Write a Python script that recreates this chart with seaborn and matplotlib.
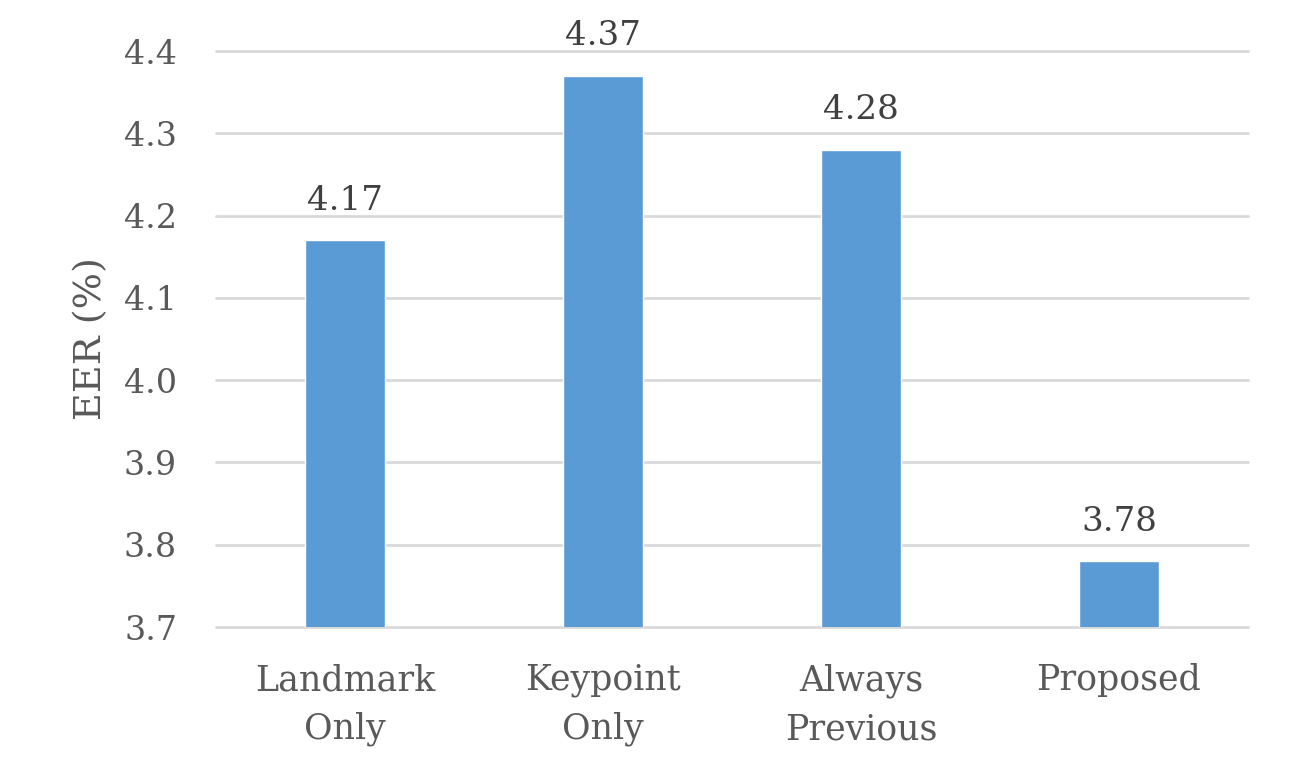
import matplotlib
matplotlib.use("Agg")
import matplotlib.pyplot as plt
import seaborn as sns
import pandas as pd

categories = ["Landmark\nOnly", "Keypoint\nOnly", "Always\nPrevious", "Proposed"]
eer_values = [4.17, 4.37, 4.28, 3.78]
y_ticks = [3.7, 3.8, 3.9, 4.0, 4.1, 4.2, 4.3, 4.4]

sns.set_theme(style="white")
plt.rcParams['font.family'] = ['DejaVu Serif']

df = pd.DataFrame({"cat": categories, "eer": eer_values})

fig = plt.figure(figsize=(12.99, 7.80), dpi=100)
ax = fig.add_axes([216/1299, 1-627/780, (1248-216)/1299, (627-51)/780])

ax.set_ylim(3.7, 4.4)
ax.set_yticks(y_ticks)
ax.set_yticklabels([f"{v:.1f}" for v in y_ticks])
for v in y_ticks:
    ax.axhline(v, color="#D9D9D9", lw=2, zorder=0, clip_on=False)

sns.barplot(data=df, x="cat", y="eer", color="#5B9BD5", saturation=1,
            width=0.31, ax=ax, zorder=2)
ax.set_xlim(-0.5, 3.5)

for p, v in zip(ax.patches, eer_values):
    ax.annotate(f"{v:.2f}", (p.get_x() + p.get_width()/2, v),
                xytext=(0, 17), textcoords="offset points",
                ha="center", va="bottom", fontsize=24.5, color="#404040")

for s in ax.spines.values():
    s.set_visible(False)
ax.tick_params(axis="both", length=0, labelsize=24, labelcolor="#595959")
ax.tick_params(axis="y", pad=28)
ax.tick_params(axis="x", pad=26, labelsize=25)
for t in ax.get_xticklabels():
    t.set_linespacing(1.55)
ax.set_xlabel("")
ax.set_ylabel("EER (%)", fontsize=27.5, color="#595959", labelpad=11)

fig.savefig("out.png", dpi=100, facecolor="white")
